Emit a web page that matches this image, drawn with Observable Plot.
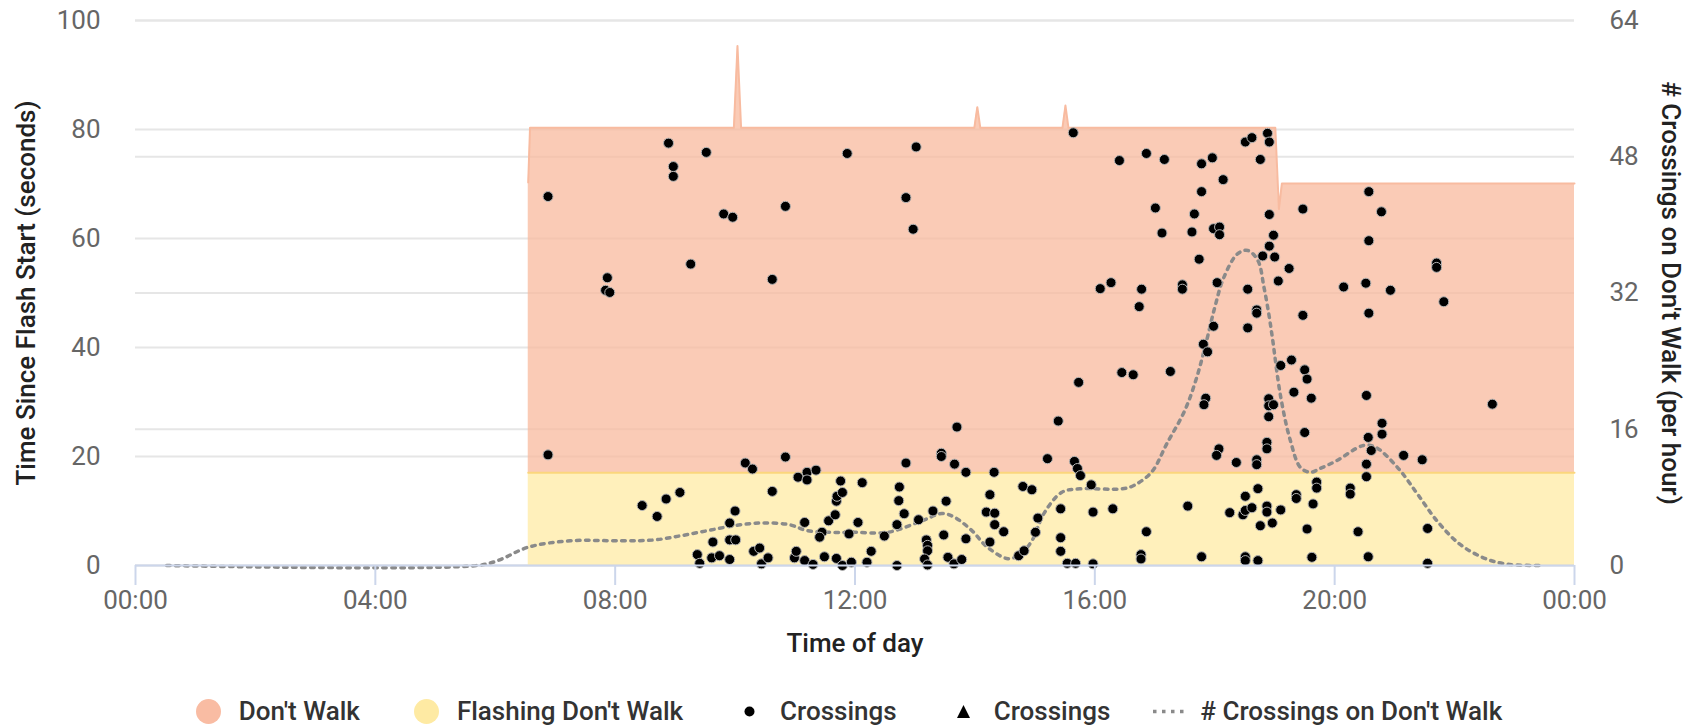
<!DOCTYPE html>
<html>
<head>
<meta charset="utf-8">
<script src="https://cdn.jsdelivr.net/npm/d3@7"></script>
<script src="https://cdn.jsdelivr.net/npm/@observablehq/plot@0.6"></script>
<style>
  body { margin: 0; background: #fff; font-family: Roboto, sans-serif; }
  #chart { position: relative; width: 1698px; height: 725px; overflow: hidden; }
  #legend { position: absolute; left: 0; top: 692px; width: 1698px; height: 38px;
    display: flex; justify-content: center; align-items: center;
    font: 500 26px Roboto, sans-serif; color: #333; white-space: nowrap; }
  .item { display: flex; align-items: center; }
  .sym { display: inline-block; margin-right: 18px; }
  .gap { margin-left: 54px; }
</style>
</head>
<body>
<div id="chart"></div>
<script>
// ---- axis ticks ----
const hourTicks = [0, 4, 8, 12, 16, 20, 24];
const leftTicks = [0, 20, 40, 60, 80, 100];
const rightTickLabels = [0, 16, 32, 48, 64];
const rightMax = 64;

// ---- "Don't Walk" band (top of interval, seconds) ----
const dontWalkTime = [6.55, 6.58, 9.98, 10.04, 10.10, 13.99, 14.04, 14.09, 15.46, 15.51, 15.56, 19.01, 19.07, 19.12, 24];
const dontWalkTop  = [70.3, 80.3, 80.3, 95.3, 80.3, 80.3, 84.1, 80.3, 80.3, 84.4, 80.3, 80.3, 65.4, 70.1, 70.1];

// ---- "Flashing Don't Walk" band ----
const flashTime = [6.55, 24];
const flashTop  = [17, 17];

// ---- Crossings (hour of day, seconds since flash start) ----
const crossTime = [
  6.88, 8.89, 9.52, 8.97, 8.97, 9.81, 9.96, 10.84, 11.87, 13.02,
  12.85, 12.97, 9.26, 7.87, 7.84, 7.91, 10.62, 15.64, 16.41, 16.86,
  17.16, 17.78, 17.96, 18.14, 17.78, 18.51, 18.62, 18.88, 18.91, 18.76,
  17.01, 17.66, 17.12, 17.62, 17.98, 18.08, 18.08, 18.91, 19.47, 18.98,
  18.91, 18.80, 19.00, 19.24, 19.06, 17.74, 16.09, 16.27, 16.78, 16.74,
  17.46, 17.46, 18.04, 18.55, 18.70, 18.70, 17.98, 18.55, 19.47, 20.57,
  20.78, 20.57, 21.70, 21.70, 20.15, 20.52, 20.93, 21.82, 20.57, 6.88,
  8.45, 8.70, 8.85, 9.08, 10.17, 10.29, 10.84, 10.62, 10.00, 9.91,
  9.91, 10.01, 9.63, 9.37, 9.41, 9.61, 9.74, 9.91, 10.31, 10.41,
  10.44, 10.55, 11.05, 11.20, 11.20, 11.35, 11.16, 10.99, 11.02, 11.16,
  11.30, 11.45, 11.41, 11.49, 11.56, 11.67, 11.69, 11.70, 11.79, 11.76,
  11.90, 12.05, 12.12, 11.69, 11.79, 11.94, 12.20, 12.27, 12.49, 12.70,
  12.70, 12.82, 12.73, 12.74, 12.85, 13.06, 13.44, 13.44, 13.66, 13.85,
  13.70, 14.32, 14.25, 13.52, 13.30, 14.19, 14.33, 14.33, 14.48, 13.48,
  13.85, 14.25, 13.19, 13.21, 13.21, 13.16, 13.21, 13.55, 13.65, 13.78,
  14.73, 14.82, 15.01, 15.05, 14.80, 14.95, 15.21, 15.39, 15.43, 15.43,
  15.43, 15.54, 15.68, 15.66, 15.71, 15.76, 15.73, 15.94, 15.97, 15.97,
  16.30, 16.45, 16.64, 16.86, 16.77, 16.77, 17.26, 17.55, 17.78, 17.81,
  17.88, 17.85, 17.82, 18.07, 18.03, 18.36, 18.25, 18.47, 18.51, 18.51,
  18.62, 18.76, 18.51, 18.51, 18.72, 18.72, 18.70, 18.70, 18.87, 18.87,
  18.87, 18.87, 18.96, 19.10, 18.90, 18.90, 18.98, 18.90, 19.10, 19.28,
  19.50, 19.54, 19.32, 19.61, 19.50, 19.36, 19.36, 19.54, 19.70, 19.70,
  19.64, 19.62, 22.63, 20.53, 20.79, 20.79, 20.56, 20.61, 21.15, 21.46,
  20.53, 20.53, 20.26, 20.26, 20.39, 20.56, 21.55, 21.55
];
const crossSecs = [
  67.7, 77.5, 75.8, 73.2, 71.4, 64.5, 63.9, 65.9, 75.6, 76.8,
  67.5, 61.7, 55.3, 52.8, 50.5, 50.1, 52.5, 79.4, 74.3, 75.6,
  74.5, 73.7, 74.8, 70.8, 68.6, 77.7, 78.5, 79.3, 77.7, 74.5,
  65.6, 64.5, 61.0, 61.2, 61.8, 62.1, 60.7, 64.4, 65.4, 60.6,
  58.6, 56.8, 56.6, 54.5, 52.2, 56.2, 50.8, 51.9, 50.7, 47.5,
  51.5, 50.7, 51.9, 50.7, 46.9, 46.3, 43.9, 43.6, 45.9, 68.6,
  64.9, 59.6, 55.5, 54.7, 51.1, 51.8, 50.5, 48.4, 46.3, 20.3,
  11.0, 9.0, 12.2, 13.4, 18.8, 17.7, 19.9, 13.6, 10.0, 7.8,
  4.7, 4.7, 4.3, 2.0, 0.4, 1.4, 1.8, 1.1, 2.6, 3.2,
  0.3, 1.4, 16.2, 17.1, 15.7, 17.5, 7.9, 1.4, 2.6, 0.9,
  0.2, 6.1, 5.2, 1.6, 8.2, 9.3, 11.8, 12.7, 13.4, 15.5,
  5.8, 7.9, 15.2, 1.3, 0.0, 0.6, 0.6, 2.6, 5.4, 7.5,
  0.0, 9.5, 11.9, 14.4, 18.8, 8.4, 20.6, 20.0, 18.6, 17.1,
  25.4, 17.1, 13.0, 11.8, 10.0, 9.8, 9.6, 7.5, 6.2, 5.6,
  4.9, 4.3, 4.7, 3.7, 2.7, 1.2, 0.1, 1.5, 0.3, 1.1,
  1.8, 2.7, 6.1, 8.7, 14.5, 13.9, 19.6, 26.5, 10.4, 5.1,
  2.6, 0.4, 0.4, 19.1, 17.8, 16.5, 33.6, 14.8, 9.8, 0.3,
  10.4, 35.4, 35.0, 6.2, 2.0, 1.2, 35.6, 10.9, 1.6, 40.6,
  39.2, 30.7, 29.5, 21.4, 20.2, 18.9, 9.7, 9.3, 12.7, 10.1,
  10.6, 7.3, 1.6, 0.9, 0.9, 14.1, 19.4, 18.5, 22.6, 21.4,
  10.9, 9.8, 7.8, 10.2, 30.6, 29.3, 29.5, 27.3, 36.7, 37.7,
  35.9, 34.2, 31.8, 30.7, 24.4, 13.0, 12.3, 6.7, 15.3, 14.2,
  11.3, 1.5, 29.6, 31.2, 26.1, 24.1, 23.5, 21.1, 20.2, 19.4,
  18.6, 16.3, 14.2, 13.1, 6.2, 1.6, 6.8, 0.4
];

// ---- # Crossings on Don't Walk (per hour), right axis ----
const rateTime  = [0.52, 5.7, 6.05, 6.55, 7.25, 8.1, 8.65, 9.1, 9.55, 10.0, 10.45, 10.9, 11.2, 11.6, 12.0, 12.55, 13.1, 13.45, 13.65, 13.95, 14.2, 14.55, 14.75, 14.95, 15.15, 15.45, 15.75, 16.45, 16.65, 16.95, 17.2, 17.5, 17.7, 17.85, 18.0, 18.15, 18.38, 18.55, 18.72, 18.82, 18.9, 18.96, 19.1, 19.26, 19.43, 19.6, 19.76, 20.03, 20.48, 20.68, 21.05, 21.38, 21.7, 22.07, 22.45, 22.83, 23.45];
const rateValue = [0, 0, 0.6, 2.15, 2.9, 2.9, 3.0, 3.5, 4.1, 4.7, 5.0, 4.8, 4.1, 3.9, 3.9, 3.9, 5.2, 6.1, 5.7, 4.1, 2.2, 0.8, 1.3, 2.9, 6.1, 8.6, 9.0, 9.0, 9.4, 11.0, 14.3, 18.2, 22.1, 26.0, 30.3, 33.8, 36.6, 37.0, 35.8, 32.7, 29.6, 26.8, 19.8, 14.7, 11.5, 10.95, 11.4, 12.3, 14.1, 13.9, 11.5, 8.4, 5.3, 2.6, 1.0, 0.2, 0];

// ---- tables ----
const toLeft = v => v * 100 / rightMax;
const dontWalk = dontWalkTime.map((t, i) => ({t, lo: flashTop[0], hi: dontWalkTop[i]}));
const flashing = flashTime.map((t, i) => ({t, lo: 0, hi: flashTop[i]}));
const crossings = crossTime.map((t, i) => ({t, s: crossSecs[i]}));
const rate = rateTime.map((t, i) => ({t, v: rateValue[i]}));

const fmtHour = d => String(d % 24).padStart(2, "0") + ":00";
const titleStyle = {fontSize: 26, fontWeight: 500, fill: "#222", fontFamily: "Roboto",
  textAnchor: "middle", lineAnchor: "middle"};

const chart = Plot.plot({
  width: 1698, height: 690,
  marginLeft: 135, marginRight: 124, marginTop: 20, marginBottom: 125,
  x: {domain: [0, 24]},
  y: {domain: [0, 100]},
  style: {fontFamily: "Roboto", fontSize: "26px", background: "#fff", overflow: "visible"},
  marks: [
    Plot.gridY(leftTicks, {stroke: "#e6e6e6", strokeOpacity: 1, strokeWidth: 2}),
    Plot.gridY(rightTickLabels.map(toLeft), {stroke: "#e6e6e6", strokeOpacity: 1, strokeWidth: 2}),
    Plot.areaY(dontWalk, {x: "t", y1: "lo", y2: "hi", fill: "#f8ba9e", fillOpacity: 0.75}),
    Plot.lineY(dontWalk, {x: "t", y: "hi", stroke: "#f8bba0", strokeWidth: 2}),
    Plot.areaY(flashing, {x: "t", y1: "lo", y2: "hi", fill: "#ffeba4", fillOpacity: 0.75}),
    Plot.lineY(flashing, {x: "t", y: "hi", stroke: "#fbd67c", strokeWidth: 2}),
    Plot.line(rate, {x: "t", y: d => toLeft(d.v), stroke: "#8a8a8a", strokeWidth: 3.5,
      strokeDasharray: "3.5,5.5", curve: "catmull-rom"}),
    Plot.dot(crossings, {x: "t", y: "s", r: 5, fill: "#000", stroke: "#b5b5b5", strokeWidth: 1}),
    Plot.ruleY([0], {stroke: "#ccd6eb", strokeWidth: 2}),
    Plot.axisX({ticks: hourTicks, tickFormat: fmtHour, tickSize: 20, tickPadding: 5,
      stroke: "#ccd6eb", strokeWidth: 2, fill: "#666", label: null, fontSize: 26}),
    Plot.axisY({anchor: "left", ticks: leftTicks, tickSize: 0, tickPadding: 35,
      fill: "#666", label: null, fontSize: 26}),
    Plot.axisY({anchor: "right", ticks: rightTickLabels.map(toLeft),
      tickFormat: d => String(Math.round(d * rightMax / 100)), tickSize: 0, tickPadding: 35,
      fill: "#666", label: null, fontSize: 26}),
    Plot.text(["Time Since Flash Start (seconds)"], {text: d => d, frameAnchor: "left", dx: -109, rotate: -90, ...titleStyle}),
    Plot.text(["# Crossings on Don't Walk (per hour)"], {text: d => d, frameAnchor: "right", dx: 96, rotate: 90, ...titleStyle}),
    Plot.text(["Time of day"], {text: d => d, frameAnchor: "bottom", dy: 78, ...titleStyle})
  ]
});

const root = document.getElementById("chart");
root.appendChild(chart);

const legend = document.createElement("div");
legend.id = "legend";
legend.innerHTML = `
  <div class="item"><svg class="sym" width="25" height="25"><circle cx="12.5" cy="12.5" r="12.5" fill="#f9bca3"/></svg><span>Don't Walk</span></div>
  <div class="item gap"><svg class="sym" width="25" height="25"><circle cx="12.5" cy="12.5" r="12.5" fill="#feeaa3"/></svg><span>Flashing Don't Walk</span></div>
  <div class="item gap"><svg class="sym" width="25" height="25"><circle cx="12.5" cy="12.5" r="5" fill="#000"/></svg><span>Crossings</span></div>
  <div class="item gap"><svg class="sym" width="25" height="25"><polygon points="12.5,6 19,19 6,19" fill="#000"/></svg><span>Crossings</span></div>
  <div class="item" style="margin-left:43px"><svg class="sym" width="34" height="25" style="margin-right:13px"><line x1="0" x2="34" y1="12.5" y2="12.5" stroke="#8a8a8a" stroke-width="3.5" stroke-dasharray="3.5,5.5"/></svg><span># Crossings on Don't Walk</span></div>`;
root.appendChild(legend);
</script>
</body>
</html>
